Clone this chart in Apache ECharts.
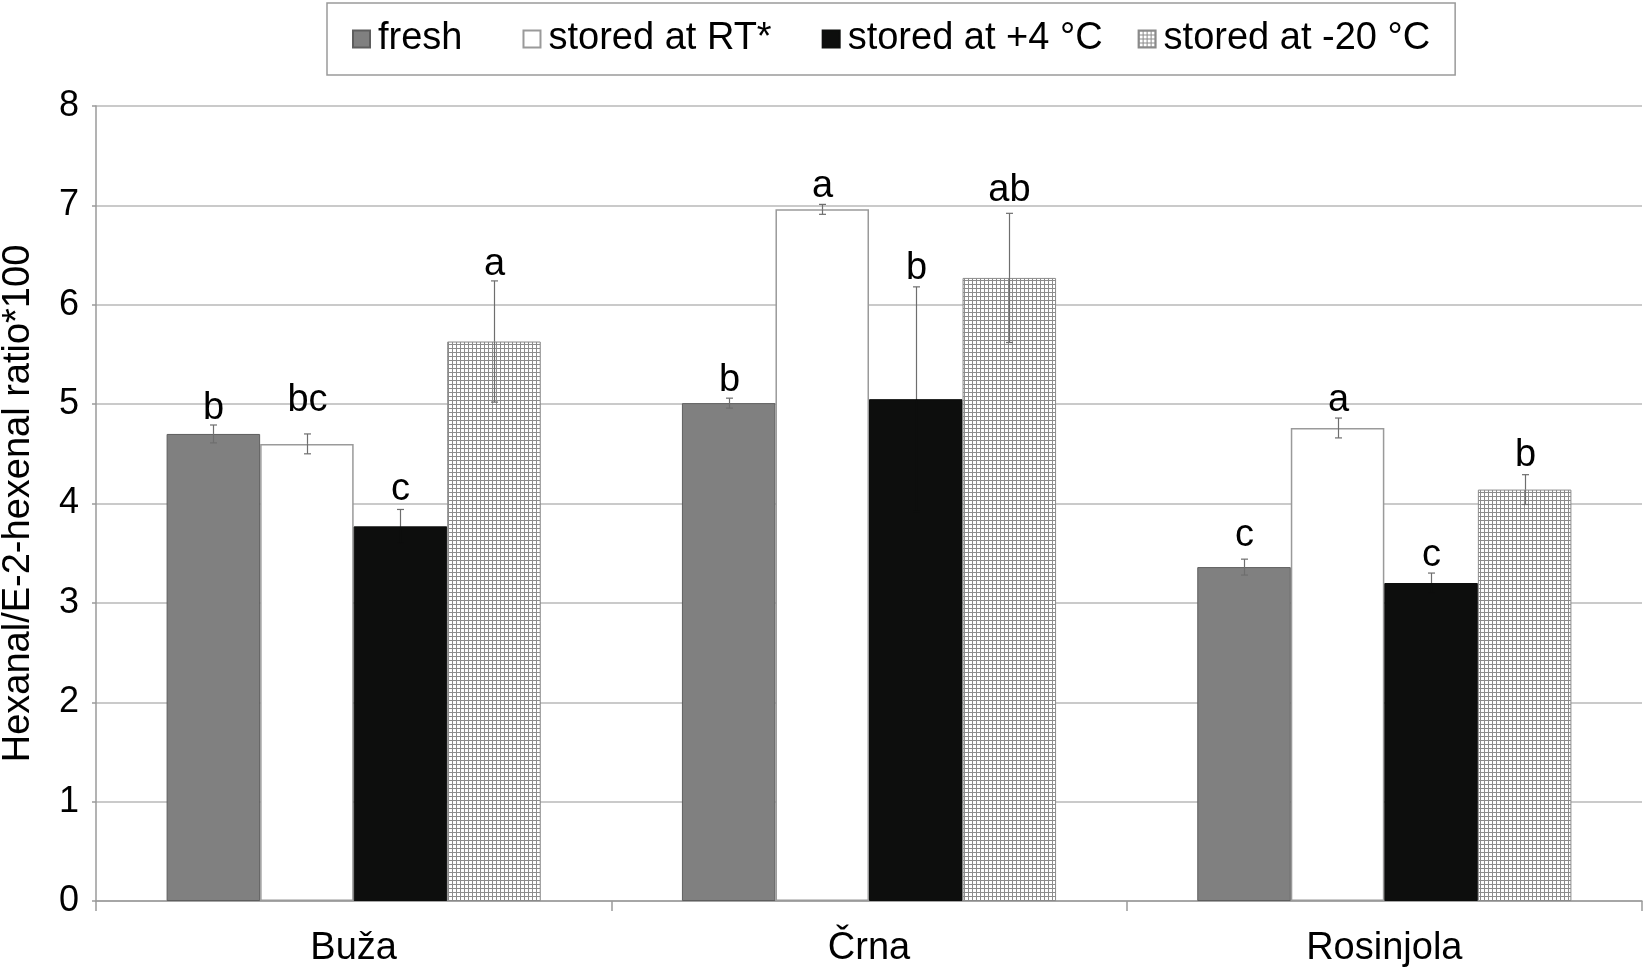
<!DOCTYPE html>
<html>
<head>
<meta charset="utf-8">
<script src="https://cdn.jsdelivr.net/npm/echarts@6/dist/echarts.min.js"></script>
<style>
html, body { margin: 0; padding: 0; background: #fff; }
#chart { width: 1644px; height: 968px; }
</style>
</head>
<body>
<div id="chart"></div>
<script>
// data
var categories = ['Buža', 'Črna', 'Rosinjola'];
var seriesNames = ['fresh', 'stored at RT*', 'stored at +4 °C', 'stored at -20 °C'];
var freshVals = [4.70, 5.01, 3.36];
var rtVals = [4.60, 6.96, 4.76];
var plus4Vals = [3.77, 5.05, 3.20];
var minus20Vals = [5.63, 6.27, 4.14];
var freshErr = [0.09, 0.05, 0.08];
var rtErr = [0.10, 0.05, 0.10];
var plus4Err = [0.17, 1.13, 0.10];
var minus20Err = [0.61, 0.65, 0.15];
var freshLetters = ['b', 'b', 'c'];
var rtLetters = ['bc', 'a', 'a'];
var plus4Letters = ['c', 'b', 'c'];
var minus20Letters = ['a', 'ab', 'b'];

var FONT = '"Liberation Sans", Arial, sans-serif';
var GAP = 0.274; // barCategoryGap

// 字母标签微调(像素,向上为正)
var letterLift = [[-2, 0, 6], [15, 0, 0], [2, 0, 0], [-2, 5, 1]];
// 图例每项后面补的小空格个数
var legendSpaces = [6, 4, 1, 0];

var valueSets = [freshVals, rtVals, plus4Vals, minus20Vals];
var errSets = [freshErr, rtErr, plus4Err, minus20Err];
var letterSets = [freshLetters, rtLetters, plus4Letters, minus20Letters];

//方格填充
function gridPattern() {
    var c = document.createElement('canvas');
    c.width = 4;
    c.height = 4;
    var ctx = c.getContext('2d');
    ctx.fillStyle = '#ffffff';
    ctx.fillRect(0, 0, 4, 4);
    ctx.fillStyle = '#8c8c8c';
    ctx.fillRect(0, 0, 4, 1);
    ctx.fillRect(0, 0, 1, 4);
    return c;
}

var errData = [];
for (var s = 0; s < 4; s++) {
    for (var c = 0; c < categories.length; c++) {
        errData.push([c, valueSets[s][c], errSets[s][c], s]);
    }
}

function renderErr(params, api) {
    var cat = api.value(0), mean = api.value(1), err = api.value(2), s = api.value(3);
    var catW = api.size([1, 0])[0];
    var barW = catW * (1 - GAP) / 4;
    var base = api.coord([cat, mean]);
    var x = Math.round(base[0] + (s - 1.5) * barW) + 0.5;
    var top = api.coord([cat, mean + err])[1];
    var bot = api.coord([cat, mean - err])[1];
    var lineStyle = { stroke: '#6e6e6e', lineWidth: 1.2 };
    // 黑色柱子内部看不到误差线
    var lowStyle = s === 2 ? { stroke: '#0d0e0d', lineWidth: 1.2 } : lineStyle;
    return {
        type: 'group',
        children: [
            { type: 'line', shape: { x1: x, y1: top, x2: x, y2: base[1] }, style: lineStyle },
            { type: 'line', shape: { x1: x, y1: base[1], x2: x, y2: bot }, style: lowStyle },
            { type: 'line', shape: { x1: x - 3.5, y1: top, x2: x + 3.5, y2: top }, style: lineStyle },
            { type: 'line', shape: { x1: x - 3.5, y1: bot, x2: x + 3.5, y2: bot }, style: lowStyle },
            {
                type: 'text',
                x: x, y: top + 1 - letterLift[s][cat],
                style: {
                    text: letterSets[s][cat],
                    fill: '#000',
                    font: '38px ' + FONT,
                    align: 'center',
                    verticalAlign: 'bottom'
                }
            }
        ]
    };
}

var barStyles = [
    { color: '#808080', borderColor: '#5e5e5e', borderWidth: 1 },
    { color: '#ffffff', borderColor: '#9a9a9a', borderWidth: 1.5 },
    { color: '#0d0e0d', borderColor: '#0d0e0d', borderWidth: 1 },
    { color: { image: gridPattern(), repeat: 'repeat' }, borderColor: '#8a8a8a', borderWidth: 1 }
];

var series = [];
for (var i = 0; i < 4; i++) {
    series.push({
        name: seriesNames[i],
        type: 'bar',
        data: valueSets[i],
        barGap: '0%',
        barCategoryGap: (GAP * 100) + '%',
        itemStyle: barStyles[i],
        emphasis: { disabled: true },
        z: 2
    });
}
series.push({
    type: 'custom',
    renderItem: renderErr,
    data: errData,
    encode: { x: 0, y: 1 },
    silent: true,
    z: 5
});

var myChart = echarts.init(document.getElementById('chart'));
var option = {
    animation: false,
    backgroundColor: '#ffffff',
    textStyle: { fontFamily: FONT },
    legend: {
        data: seriesNames,
        left: 327,
        top: 3,
        icon: 'rect',
        itemWidth: 17,
        itemHeight: 17,
        itemGap: 30,
        padding: [17, 25, 17, 25],
        borderColor: '#9a9a9a',
        borderWidth: 1.5,
        formatter: function (name) {
            var n = legendSpaces[seriesNames.indexOf(name)];
            return n > 0 ? name + '{s|' + new Array(n + 1).join(' ') + '}' : name;
        },
        textStyle: {
            fontSize: 38, color: '#000', fontFamily: FONT, padding: [0, 0, 0, 3],
            rich: { s: { fontSize: 18, fontFamily: FONT } }
        }
    },
    grid: {
        left: 96,
        right: 2,
        top: 106,
        bottom: 67,
        containLabel: false,
        outerBoundsMode: 'none'
    },
    xAxis: {
        type: 'category',
        data: categories,
        axisLine: { lineStyle: { color: '#9a9a9a', width: 1.5 } },
        axisTick: { show: true, length: 10, lineStyle: { color: '#9a9a9a', width: 1.5 } },
        axisLabel: { fontSize: 38, color: '#000', margin: 29, fontFamily: FONT }
    },
    yAxis: {
        type: 'value',
        min: 0,
        max: 8,
        interval: 1,
        name: 'Hexanal/E-2-hexenal ratio*100',
        nameLocation: 'middle',
        nameGap: 58,
        nameTextStyle: { fontSize: 38, color: '#000', fontFamily: FONT },
        axisLine: { show: true, lineStyle: { color: '#9a9a9a', width: 1.5 } },
        axisTick: { show: true, length: 4, lineStyle: { color: '#9a9a9a', width: 1.5 } },
        axisLabel: { fontSize: 36, color: '#000', margin: 17, fontFamily: FONT },
        splitLine: { show: true, lineStyle: { color: '#b8b8b8', width: 1.5 } }
    },
    series: series
};
myChart.setOption(option);
window.onresize = myChart.resize;
</script>
</body>
</html>
